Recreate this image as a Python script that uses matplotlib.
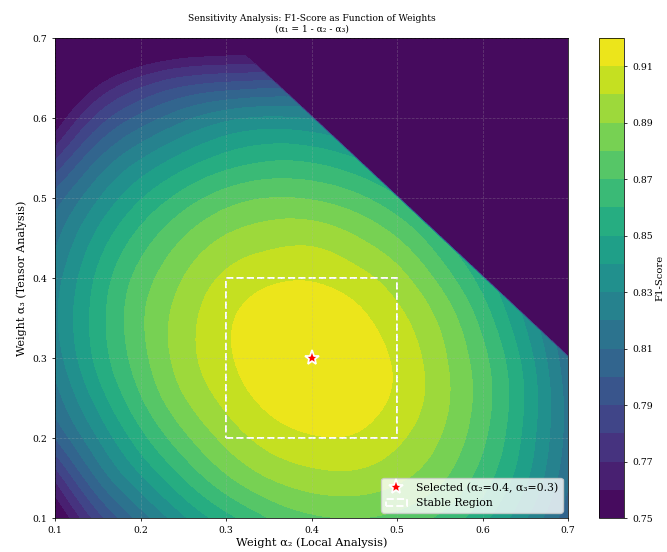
import numpy as np
import matplotlib
matplotlib.use('Agg')
import matplotlib.pyplot as plt
from matplotlib.tri import Triangulation, UniformTriRefiner, CubicTriInterpolator
from matplotlib.patches import Rectangle

plt.rcParams['font.family'] = ['DejaVu Serif']

# ---- data (alpha2 = columns, alpha3 = rows) ----
alpha2 = [0.10, 0.15, 0.20, 0.25, 0.30, 0.35, 0.40, 0.45, 0.50, 0.55, 0.60, 0.65, 0.70]
alpha3 = [0.10, 0.15, 0.20, 0.25, 0.30, 0.35, 0.40, 0.45, 0.50, 0.55, 0.60, 0.65, 0.70]
nan = np.nan  # alpha1 = 1 - alpha2 - alpha3 < 0 : invalid region
f1_rows = [
    [0.745, 0.785, 0.814, 0.838, 0.856, 0.870, 0.878, 0.880, 0.877, 0.868, 0.853, 0.831, 0.803],
    [0.772, 0.811, 0.838, 0.860, 0.878, 0.890, 0.896, 0.897, 0.892, 0.882, 0.865, 0.842, 0.812],
    [0.800, 0.830, 0.856, 0.877, 0.893, 0.904, 0.909, 0.909, 0.902, 0.890, 0.872, 0.847, 0.816],
    [0.815, 0.844, 0.869, 0.889, 0.903, 0.913, 0.917, 0.915, 0.908, 0.894, 0.875, 0.849, 0.816],
    [0.824, 0.853, 0.876, 0.895, 0.908, 0.917, 0.919, 0.916, 0.908, 0.893, 0.873, 0.846, 0.812],
    [0.828, 0.855, 0.878, 0.895, 0.908, 0.915, 0.917, 0.913, 0.903, 0.888, 0.866, 0.838, nan],
    [0.825, 0.852, 0.874, 0.890, 0.902, 0.908, 0.909, 0.904, 0.894, 0.877, 0.855, nan, nan],
    [0.817, 0.843, 0.864, 0.880, 0.891, 0.896, 0.897, 0.891, 0.880, 0.862, nan, nan, nan],
    [0.804, 0.829, 0.849, 0.864, 0.875, 0.880, 0.879, 0.873, 0.861, nan, nan, nan, nan],
    [0.778, 0.809, 0.829, 0.843, 0.853, 0.858, 0.857, 0.850, nan, nan, nan, nan, nan],
    [0.750, 0.783, 0.803, 0.817, 0.827, 0.831, 0.829, nan, nan, nan, nan, nan, nan],
    [0.725, 0.753, 0.771, 0.781, 0.785, 0.787, nan, nan, nan, nan, nan, nan, nan],
    [0.690, 0.713, 0.729, 0.737, 0.741, nan, nan, nan, nan, nan, nan, nan, nan],
]
levels = [0.75, 0.76, 0.77, 0.78, 0.79, 0.80, 0.81, 0.82, 0.83, 0.84,
          0.85, 0.86, 0.87, 0.88, 0.89, 0.90, 0.91, 0.92]
cbar_ticks = [0.75, 0.77, 0.79, 0.81, 0.83, 0.85, 0.87, 0.89, 0.91]
axis_ticks = [0.1, 0.2, 0.3, 0.4, 0.5, 0.6, 0.7]
selected = (0.4, 0.3)
stable_lo = (0.3, 0.2)
stable_hi = (0.5, 0.4)

# ---- figure ----
fig = plt.figure(figsize=(6.67, 5.52), dpi=100)
ax = fig.add_axes([55/667, 1-518/552, 513/667, 480/552])
cax = fig.add_axes([599/667, 1-518/552, 25/667, 480/552])

A2, A3 = np.meshgrid(alpha2, alpha3)
F = np.array(f1_rows, dtype=float)
n = len(alpha2)
tris = []
for j in range(n - 1):
    for i in range(n - 1):
        k = j * n + i
        tris.append([k, k + 1, k + n])
        tris.append([k + 1, k + n + 1, k + n])
tris = np.array(tris)
x = A2.ravel(); y = A3.ravel(); z = F.ravel()

tri_valid = Triangulation(x, y, tris)
tri_valid.set_mask(np.isnan(z[tris]).any(axis=1))
interp = CubicTriInterpolator(tri_valid, np.where(np.isnan(z), levels[0], z))

tri_full = Triangulation(x, y, tris)
tri_r = UniformTriRefiner(tri_full).refine_triangulation(subdiv=4)
cx, cy = selected
xe = cx + (tri_r.x - cx) * (1 - 1e-7)
ye = cy + (tri_r.y - cy) * (1 - 1e-7)
z_r = np.ma.filled(np.ma.masked_invalid(interp(xe, ye)), levels[0])
z_r = np.clip(z_r, levels[0], levels[-1])

cs = ax.tricontourf(tri_r, z_r, levels=levels, cmap='viridis')

ax.set_xlim(axis_ticks[0], axis_ticks[-1])
ax.set_ylim(axis_ticks[0], axis_ticks[-1])
ax.set_xticks(axis_ticks)
ax.set_yticks(axis_ticks)
ax.tick_params(labelsize=6.7, length=2.3, width=0.55)
for s in ax.spines.values():
    s.set_linewidth(0.55)
ax.grid(True, linestyle='--', alpha=0.3, linewidth=0.55)

ax.plot(selected[0], selected[1], marker='*', color='red', markersize=11,
        markeredgecolor='white', markeredgewidth=1.3, linestyle='none',
        label='Selected (α₂=0.4, α₃=0.3)')
ax.add_patch(Rectangle(stable_lo, stable_hi[0] - stable_lo[0], stable_hi[1] - stable_lo[1],
                       fill=False, edgecolor='white', linestyle='--', linewidth=1.4,
                       label='Stable Region'))
ax.legend(loc='lower right', fontsize=7.8)

ax.set_xlabel('Weight α₂ (Local Analysis)', fontsize=8.2, labelpad=2)
ax.set_ylabel('Weight α₃ (Tensor Analysis)', fontsize=8, labelpad=4)
ax.set_title('Sensitivity Analysis: F1-Score as Function of Weights\n(α₁ = 1 - α₂ - α₃)',
             fontsize=6.6, pad=5)

cb = fig.colorbar(cs, cax=cax, ticks=cbar_ticks)
cb.set_label('F1-Score', fontsize=7.2, labelpad=2)
cb.ax.tick_params(labelsize=6.7, length=2.3, width=0.55)
cb.outline.set_linewidth(0.55)

fig.savefig('out.png', dpi=100)
